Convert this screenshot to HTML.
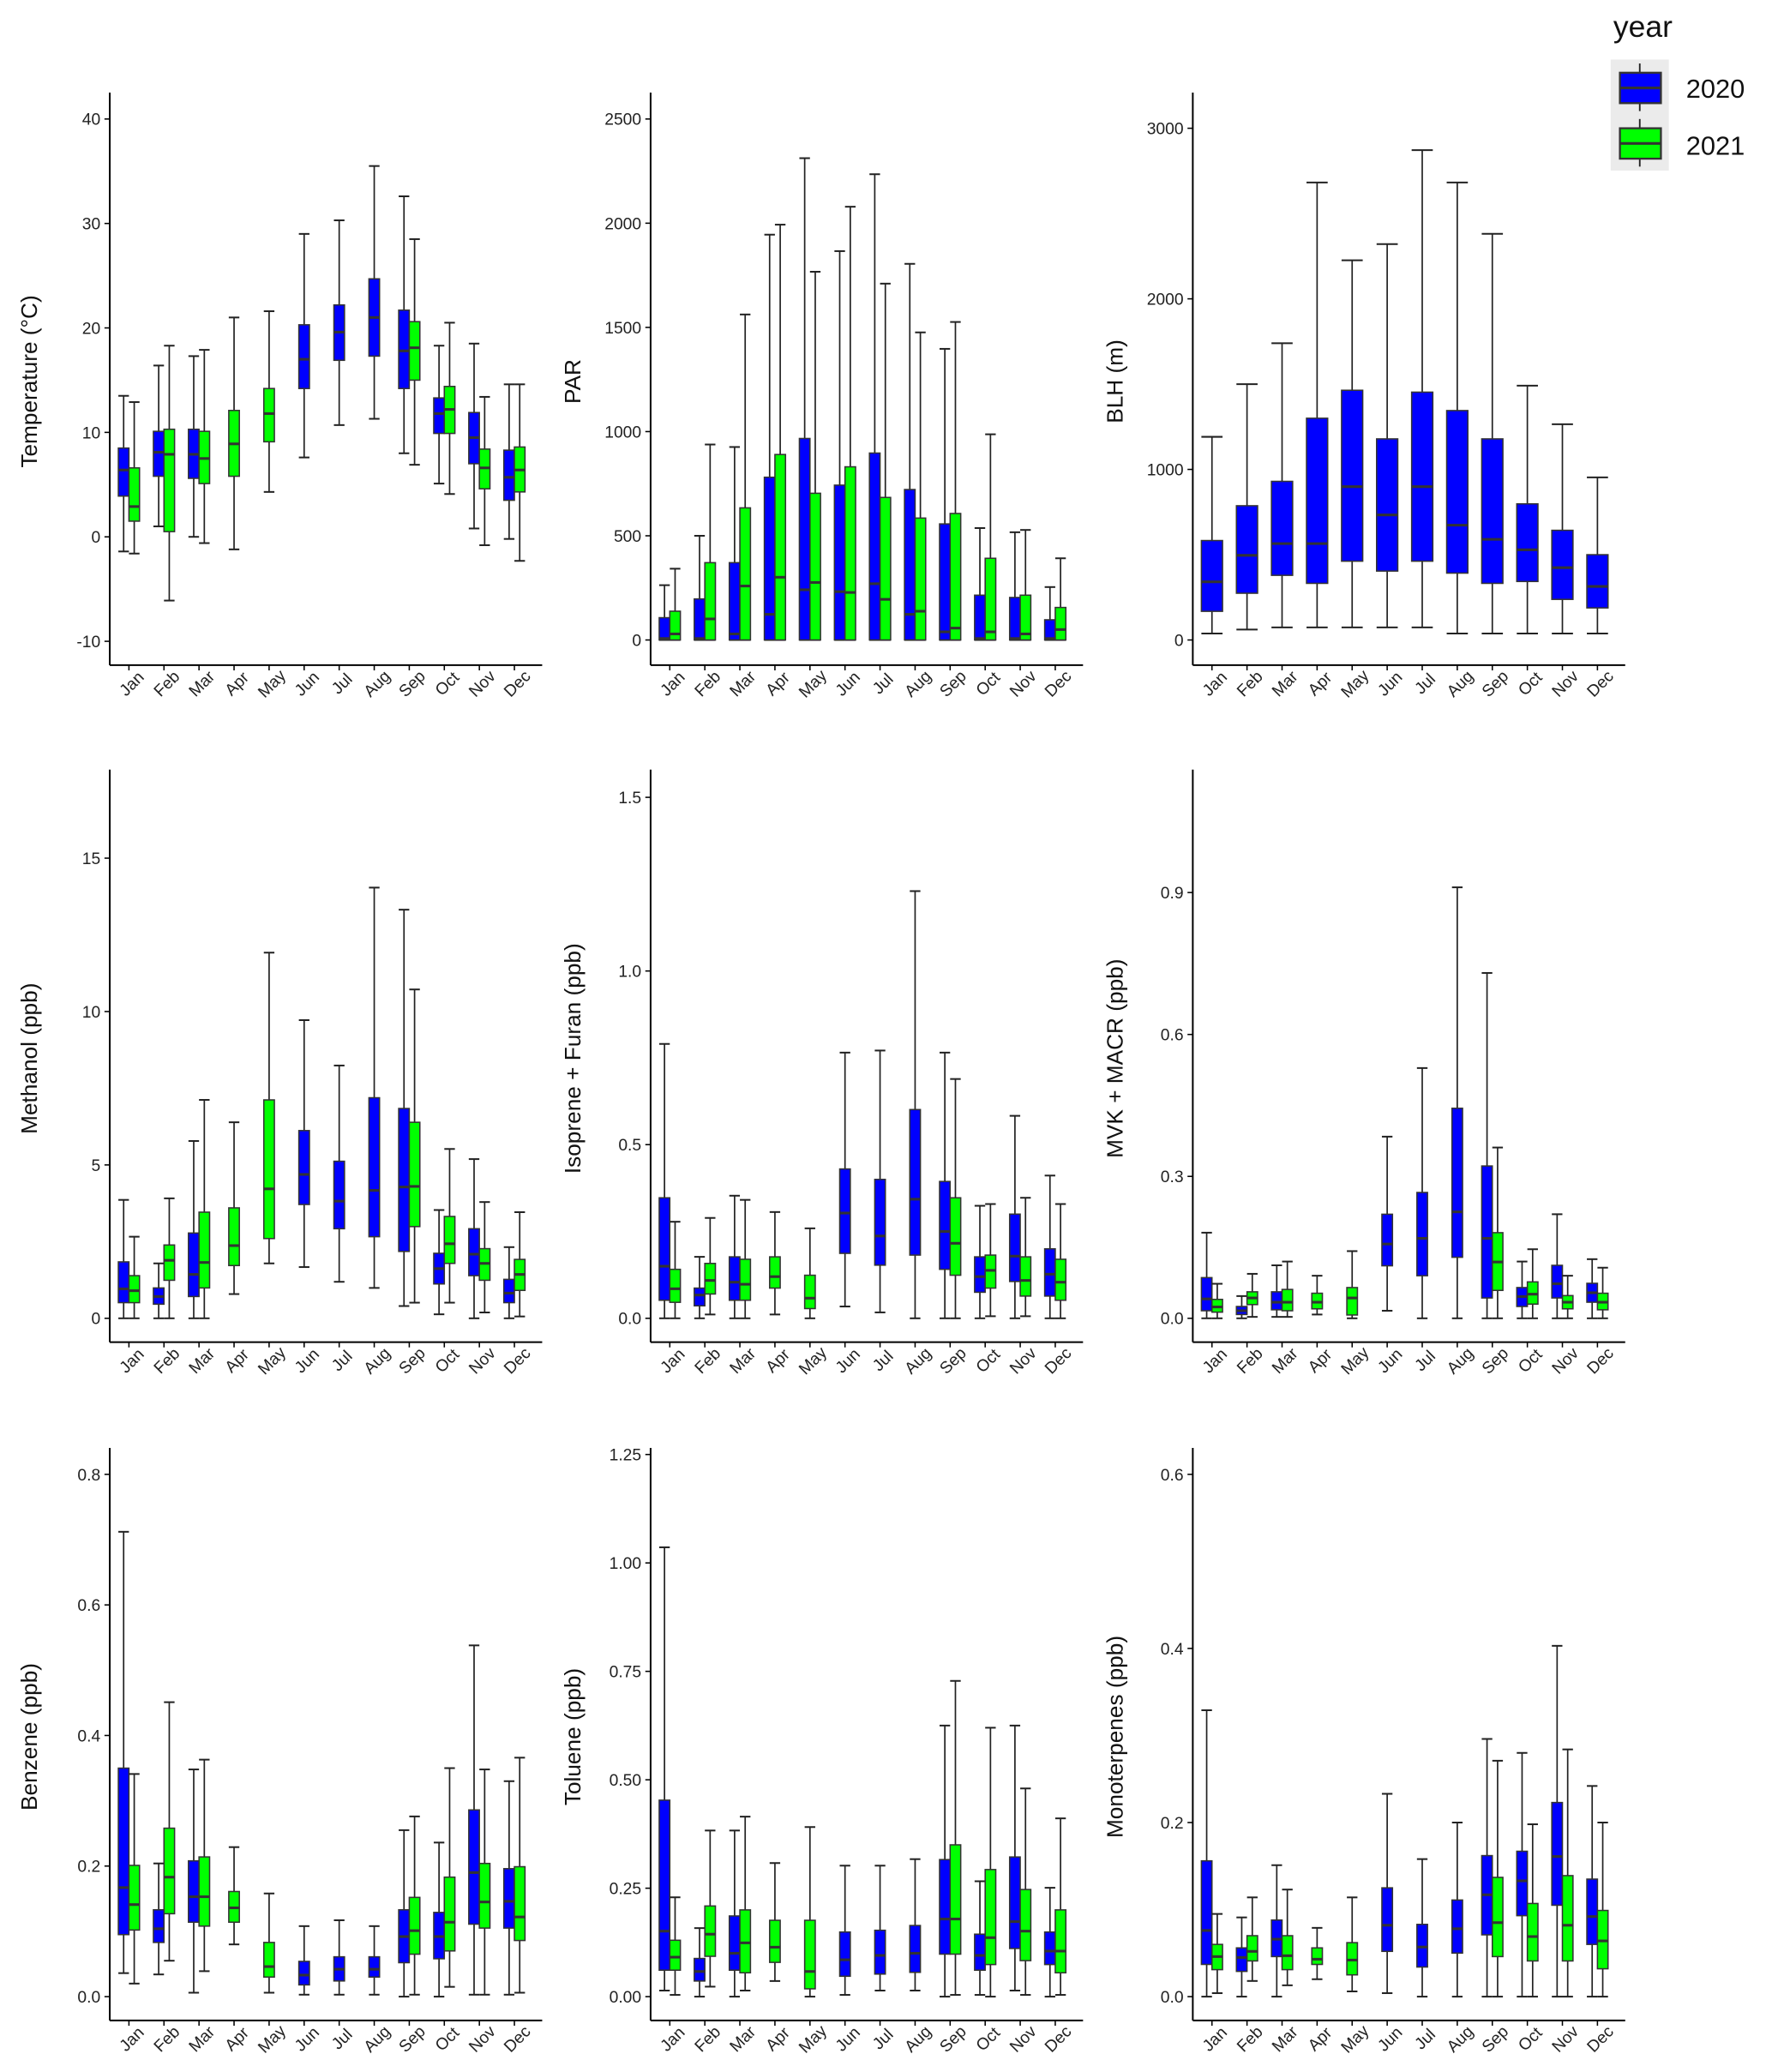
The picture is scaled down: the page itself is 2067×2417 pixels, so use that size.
<!DOCTYPE html>
<html><head><meta charset="utf-8"><style>
html,body{margin:0;padding:0;background:#fff;}
svg{display:block;font-family:"Liberation Sans",Arial,sans-serif;}
</style></head><body>
<svg id="chart" width="2067" height="2417" viewBox="0 0 1340 1567" preserveAspectRatio="none" xmlns="http://www.w3.org/2000/svg">
<rect x="0" y="0" width="1340" height="1567" fill="#fff"/>
<g>
<text x="1220" y="28" font-size="23" fill="#111">year</text>
<rect x="1218" y="45" width="44" height="84" fill="#ebebeb"/>
<g>
<line x1="1240" y1="48" x2="1240" y2="84" stroke="#222" stroke-width="1.2"/>
<rect x="1225" y="55" width="31" height="23" fill="#0000ff" stroke="#333" stroke-width="1.5"/>
<line x1="1225" y1="66.5" x2="1256" y2="66.5" stroke="#333" stroke-width="2"/>
<text x="1275" y="74" font-size="20" fill="#111">2020</text>
</g>
<g>
<line x1="1240" y1="90" x2="1240" y2="126" stroke="#222" stroke-width="1.2"/>
<rect x="1225" y="97" width="31" height="23" fill="#00ff00" stroke="#333" stroke-width="1.5"/>
<line x1="1225" y1="108.5" x2="1256" y2="108.5" stroke="#333" stroke-width="2"/>
<text x="1275" y="117" font-size="20" fill="#111">2021</text>
</g>
</g>
</svg>
<script>
const months = ['Jan','Feb','Mar','Apr','May','Jun','Jul','Aug','Sep','Oct','Nov','Dec'];

const tempTicks = [-10,0,10,20,30,40];
const temp2020 = [[-1.4,3.9,6.4,8.5,13.5],[1.0,5.8,8.1,10.1,16.4],[0,5.6,7.9,10.3,17.3],null,null,[7.6,14.2,17,20.3,29],[10.7,16.9,19.6,22.2,30.3],[11.3,17.3,21,24.7,35.5],[8.0,14.2,17.8,21.7,32.6],[5.1,9.9,11.8,13.3,18.3],[0.8,7.0,9.5,11.9,18.5],[-0.2,3.5,5.7,8.3,14.6]];
const temp2021 = [[-1.6,1.5,2.9,6.6,12.9],[-6.1,0.5,7.9,10.3,18.3],[-0.6,5.1,7.5,10.1,17.9],[-1.2,5.8,8.9,12.1,21],[4.3,9.1,11.8,14.2,21.6],null,null,null,[6.9,15,18.1,20.6,28.5],[4.1,9.9,12.2,14.4,20.5],[-0.8,4.6,6.6,8.4,13.4],[-2.3,4.3,6.4,8.6,14.6]];

const parTicks = [0,500,1000,1500,2000,2500];
const par2020 = [[0,0,7,107,263],[0,0,7,197,500],[0,0,29,371,926],[0,0,123,781,1945],[0,0,241,967,2312],[0,0,232,743,1866],[0,0,270,897,2235],[0,0,123,722,1805],[0,0,39,557,1397],[0,0,7,215,537],[0,0,7,204,517],[0,0,7,97,254]];
const par2021 = [[0,0,29,138,342],[0,0,101,371,938],[0,0,259,634,1562],[0,0,301,890,1993],[0,0,276,704,1767],[0,0,228,831,2079],[0,0,195,684,1710],[0,0,138,585,1476],[0,0,57,607,1526],[0,0,39,392,987],[0,0,29,215,528],[0,0,50,156,392]];

const blhTicks = [0,1000,2000,3000];
const blh2020 = [[38,168,341,583,1191],[61,274,496,787,1500],[74,379,565,930,1740],[74,332,565,1300,2682],[74,462,899,1464,2226],[74,404,733,1179,2321],[74,462,899,1453,2872],[38,392,673,1345,2682],[38,332,590,1179,2381],[38,343,529,798,1491],[38,238,424,643,1265],[38,188,314,500,953]];
const blh2021 = [null,null,null,null,null,null,null,null,null,null,null,null];

const methTicks = [0,5,10,15];
const meth2020 = [[0,0.51,0.96,1.84,3.86],[0,0.46,0.71,0.99,1.79],[0,0.71,1.43,2.78,5.78],null,null,[1.67,3.71,4.69,6.12,9.72],[1.19,2.92,3.82,5.12,8.24],[0.99,2.66,4.17,7.19,14.04],[0.4,2.18,4.28,6.84,13.32],[0.13,1.12,1.62,2.12,3.53],[0,1.39,2.09,2.92,5.19],[0,0.51,0.82,1.27,2.32]];
const meth2021 = [[0,0.51,0.9,1.39,2.66],[0,1.24,1.89,2.39,3.91],[0,0.99,1.82,3.46,7.12],[0.79,1.72,2.37,3.6,6.39],[1.79,2.6,4.22,7.12,11.92],null,null,null,[0.51,2.99,4.3,6.39,10.72],[0.51,1.79,2.43,3.32,5.52],[0.19,1.24,1.79,2.27,3.79],[0.06,0.91,1.43,1.92,3.46]];

const isoTicks = [0.0,0.5,1.0,1.5];
const iso2020 = [[0,0.052,0.15,0.347,0.79],[0,0.036,0.067,0.087,0.177],[0,0.052,0.104,0.177,0.353],null,null,[0.034,0.187,0.303,0.43,0.765],[0.017,0.153,0.237,0.4,0.771],[0,0.182,0.343,0.601,1.23],[0,0.141,0.25,0.394,0.765],[0,0.075,0.12,0.177,0.324],[0,0.106,0.179,0.3,0.583],[0,0.064,0.127,0.2,0.411]];
const iso2021 = [[0,0.046,0.085,0.141,0.278],[0.011,0.07,0.109,0.158,0.289],[0,0.052,0.098,0.17,0.341],[0.011,0.087,0.12,0.177,0.306],[0,0.028,0.058,0.124,0.259],null,null,null,[0,0.124,0.216,0.347,0.689],[0.006,0.087,0.138,0.182,0.329],[0.006,0.064,0.109,0.177,0.347],[0,0.052,0.104,0.17,0.329]];

const mvkTicks = [0.0,0.3,0.6,0.9];
const mvk2020 = [[0,0.016,0.041,0.086,0.181],[0,0.008,0.016,0.025,0.047],[0.003,0.018,0.034,0.056,0.112],null,null,[0.016,0.111,0.157,0.22,0.384],[0,0.09,0.169,0.266,0.529],[0,0.129,0.225,0.444,0.911],[0,0.043,0.169,0.322,0.73],[0,0.025,0.046,0.065,0.12],[0,0.043,0.073,0.112,0.22],[0,0.034,0.054,0.074,0.125]];
const mvk2021 = [[0,0.013,0.024,0.04,0.073],[0.003,0.029,0.043,0.056,0.094],[0.003,0.016,0.034,0.061,0.12],[0.008,0.02,0.034,0.053,0.09],[0,0.007,0.043,0.065,0.142],null,null,null,[0,0.059,0.119,0.181,0.361],[0,0.03,0.051,0.077,0.146],[0,0.02,0.034,0.048,0.09],[0,0.018,0.034,0.053,0.107]];

const benTicks = [0.0,0.2,0.4,0.6,0.8];
const ben2020 = [[0.036,0.095,0.167,0.35,0.712],[0.034,0.083,0.104,0.133,0.204],[0.006,0.114,0.153,0.208,0.348],null,null,[0.003,0.018,0.033,0.054,0.108],[0.003,0.024,0.042,0.061,0.117],[0.003,0.03,0.042,0.061,0.108],[0,0.052,0.092,0.133,0.255],[0,0.058,0.092,0.129,0.236],[0.003,0.111,0.19,0.286,0.538],[0.003,0.105,0.146,0.196,0.33]];
const ben2021 = [[0.02,0.102,0.141,0.201,0.341],[0.055,0.127,0.183,0.258,0.451],[0.039,0.108,0.153,0.214,0.363],[0.08,0.114,0.136,0.161,0.229],[0.006,0.03,0.046,0.083,0.158],null,null,null,[0.003,0.065,0.101,0.152,0.276],[0.015,0.07,0.114,0.183,0.35],[0.003,0.105,0.145,0.204,0.348],[0.006,0.086,0.122,0.199,0.366]];

const tolTicks = [0.00,0.25,0.50,0.75,1.00,1.25];
const tol2020 = [[0.014,0.061,0.151,0.453,1.036],[0,0.036,0.058,0.088,0.158],[0,0.061,0.1,0.186,0.383],null,null,[0.004,0.047,0.085,0.149,0.302],[0.014,0.052,0.095,0.153,0.302],[0.014,0.056,0.1,0.164,0.317],[0,0.098,0.179,0.316,0.625],[0.004,0.061,0.095,0.144,0.266],[0.014,0.111,0.173,0.322,0.625],[0,0.074,0.105,0.149,0.251]];
const tol2021 = [[0.004,0.061,0.091,0.13,0.229],[0.023,0.093,0.144,0.209,0.383],[0.014,0.055,0.124,0.2,0.415],[0.036,0.079,0.114,0.176,0.308],[0,0.018,0.058,0.176,0.391],null,null,null,[0.004,0.098,0.179,0.35,0.728],[0,0.074,0.136,0.293,0.62],[0.004,0.083,0.151,0.247,0.48],[0.004,0.055,0.105,0.2,0.411]];

const monoTicks = [0.0,0.2,0.4,0.6];
const mono2020 = [[0,0.037,0.076,0.156,0.329],[0,0.029,0.045,0.056,0.091],[0,0.046,0.066,0.088,0.151],null,null,[0.004,0.052,0.082,0.125,0.233],[0,0.034,0.057,0.083,0.158],[0,0.05,0.078,0.111,0.2],[0,0.071,0.117,0.162,0.296],[0,0.093,0.133,0.167,0.28],[0,0.105,0.161,0.223,0.403],[0,0.06,0.092,0.135,0.242]];
const mono2021 = [[0.004,0.031,0.046,0.06,0.095],[0.018,0.041,0.052,0.07,0.114],[0.013,0.031,0.047,0.07,0.123],[0.02,0.037,0.043,0.056,0.079],[0.006,0.025,0.042,0.062,0.114],null,null,null,[0,0.046,0.085,0.137,0.271],[0,0.041,0.069,0.107,0.198],[0,0.041,0.082,0.139,0.284],[0,0.032,0.064,0.099,0.2]];

// layout (not data)
const panels = [
 {id:'temperature', title:'Temperature (°C)', ticks:tempTicks, a:temp2020, b:temp2021, ax:83, top:70, base:503, v0:0, y0:406, v1:40, y1:90, tx:22, w:8},
 {id:'par', title:'PAR', ticks:parTicks, a:par2020, b:par2021, ax:492, top:70, base:503, v0:0, y0:484, v1:2500, y1:90, tx:433, w:8},
 {id:'blh', title:'BLH (m)', ticks:blhTicks, a:blh2020, b:blh2021, ax:902, top:70, base:503, v0:0, y0:484, v1:3000, y1:97, tx:843, w:16},
 {id:'methanol', title:'Methanol (ppb)', ticks:methTicks, a:meth2020, b:meth2021, ax:83, top:582, base:1015, v0:0, y0:997, v1:15, y1:649, tx:22, w:8},
 {id:'isoprene', title:'Isoprene + Furan (ppb)', ticks:isoTicks, a:iso2020, b:iso2021, ax:492, top:582, base:1015, v0:0, y0:997, v1:1.5, y1:603, tx:433, w:8, dec:1},
 {id:'mvk', title:'MVK + MACR (ppb)', ticks:mvkTicks, a:mvk2020, b:mvk2021, ax:902, top:582, base:1015, v0:0, y0:997, v1:0.9, y1:675, tx:843, w:8, dec:1},
 {id:'benzene', title:'Benzene (ppb)', ticks:benTicks, a:ben2020, b:ben2021, ax:83, top:1095, base:1528, v0:0, y0:1510, v1:0.8, y1:1115, tx:22, w:8, dec:1},
 {id:'toluene', title:'Toluene (ppb)', ticks:tolTicks, a:tol2020, b:tol2021, ax:492, top:1095, base:1528, v0:0, y0:1510, v1:1.25, y1:1100, tx:433, w:8, dec:2},
 {id:'monoterpenes', title:'Monoterpenes (ppb)', ticks:monoTicks, a:mono2020, b:mono2021, ax:902, top:1095, base:1528, v0:0, y0:1510, v1:0.6, y1:1115, tx:843, w:8, dec:1}
];
const NS = 'http://www.w3.org/2000/svg';
const svg = document.getElementById('chart');
function mk(tag, attrs, parent){ const e=document.createElementNS(NS,tag); for(const k in attrs) e.setAttribute(k,attrs[k]); parent.appendChild(e); return e; }

panels.forEach(p=>{
  const g = mk('g',{},svg);
  
  
  const yS = v => p.y0 + (v - p.v0) * (p.y1 - p.y0) / (p.v1 - p.v0);
  const xS = i => p.ax + 14.5 + i * 26.5;
  const right = p.ax + 327;
  // axes
  const yax = mk('line',{x1:p.ax,y1:p.top,x2:p.ax,y2:p.base,stroke:'#000','stroke-width':1.3},g);
  
  
  const xax = mk('line',{x1:p.ax,y1:p.base,x2:right,y2:p.base,stroke:'#000','stroke-width':1.3},g);
  
  
  p.ticks.forEach(t=>{
    const y = yS(t);
    mk('line',{x1:p.ax-4,y1:y,x2:p.ax,y2:y,stroke:'#000','stroke-width':1},g);
    const lab = mk('text',{x:p.ax-7,y:y+4.5,'text-anchor':'end','font-size':12.5,fill:'#222'},g);
    lab.textContent = p.dec ? t.toFixed(p.dec) : String(t);
    
    
  });
  const ttl = mk('text',{x:0,y:0,'text-anchor':'middle','font-size':17,fill:'#111',transform:`translate(${p.tx+6},${(p.top+p.base)/2+2}) rotate(-90)`},g);
  ttl.textContent = p.title;
  
  
  months.forEach((m,i)=>{
    const x = xS(i);
    mk('line',{x1:x,y1:p.base,x2:x,y2:p.base+4,stroke:'#000','stroke-width':1},g);
    const lab = mk('text',{x:0,y:0,'text-anchor':'middle','font-size':12.5,fill:'#222',transform:`translate(${x+5},${p.base+17}) rotate(-45)`},g);
    lab.textContent = m;
    
    
    const both = p.a[i] && p.b[i];
    [[p.a[i],'#0000ff','2020',-1],[p.b[i],'#00ff00','2021',1]].forEach(([d,col,yr,side])=>{
      if(!d) return;
      const w = p.w;
      const cx = both ? x + side*w/2 : x;
      const bg = mk('g',{},g);
      
      
      const ymin=yS(d[0]), yq1=yS(d[1]), ymed=yS(d[2]), yq3=yS(d[3]), ymax=yS(d[4]);
      mk('line',{x1:cx,y1:ymax,x2:cx,y2:yq3,stroke:'#222','stroke-width':1.1},bg);
      mk('line',{x1:cx,y1:yq1,x2:cx,y2:ymin,stroke:'#222','stroke-width':1.1},bg);
      mk('line',{x1:cx-w/2,y1:ymax,x2:cx+w/2,y2:ymax,stroke:'#222','stroke-width':1.3},bg);
      mk('line',{x1:cx-w/2,y1:ymin,x2:cx+w/2,y2:ymin,stroke:'#222','stroke-width':1.3},bg);
      mk('rect',{x:cx-w/2,y:yq3,width:w,height:Math.max(yq1-yq3,0.5),fill:col,stroke:'#333','stroke-width':1},bg);
      mk('line',{x1:cx-w/2,y1:ymed,x2:cx+w/2,y2:ymed,stroke:'#333','stroke-width':2},bg);
    });
  });
});
</script>
</body></html>
